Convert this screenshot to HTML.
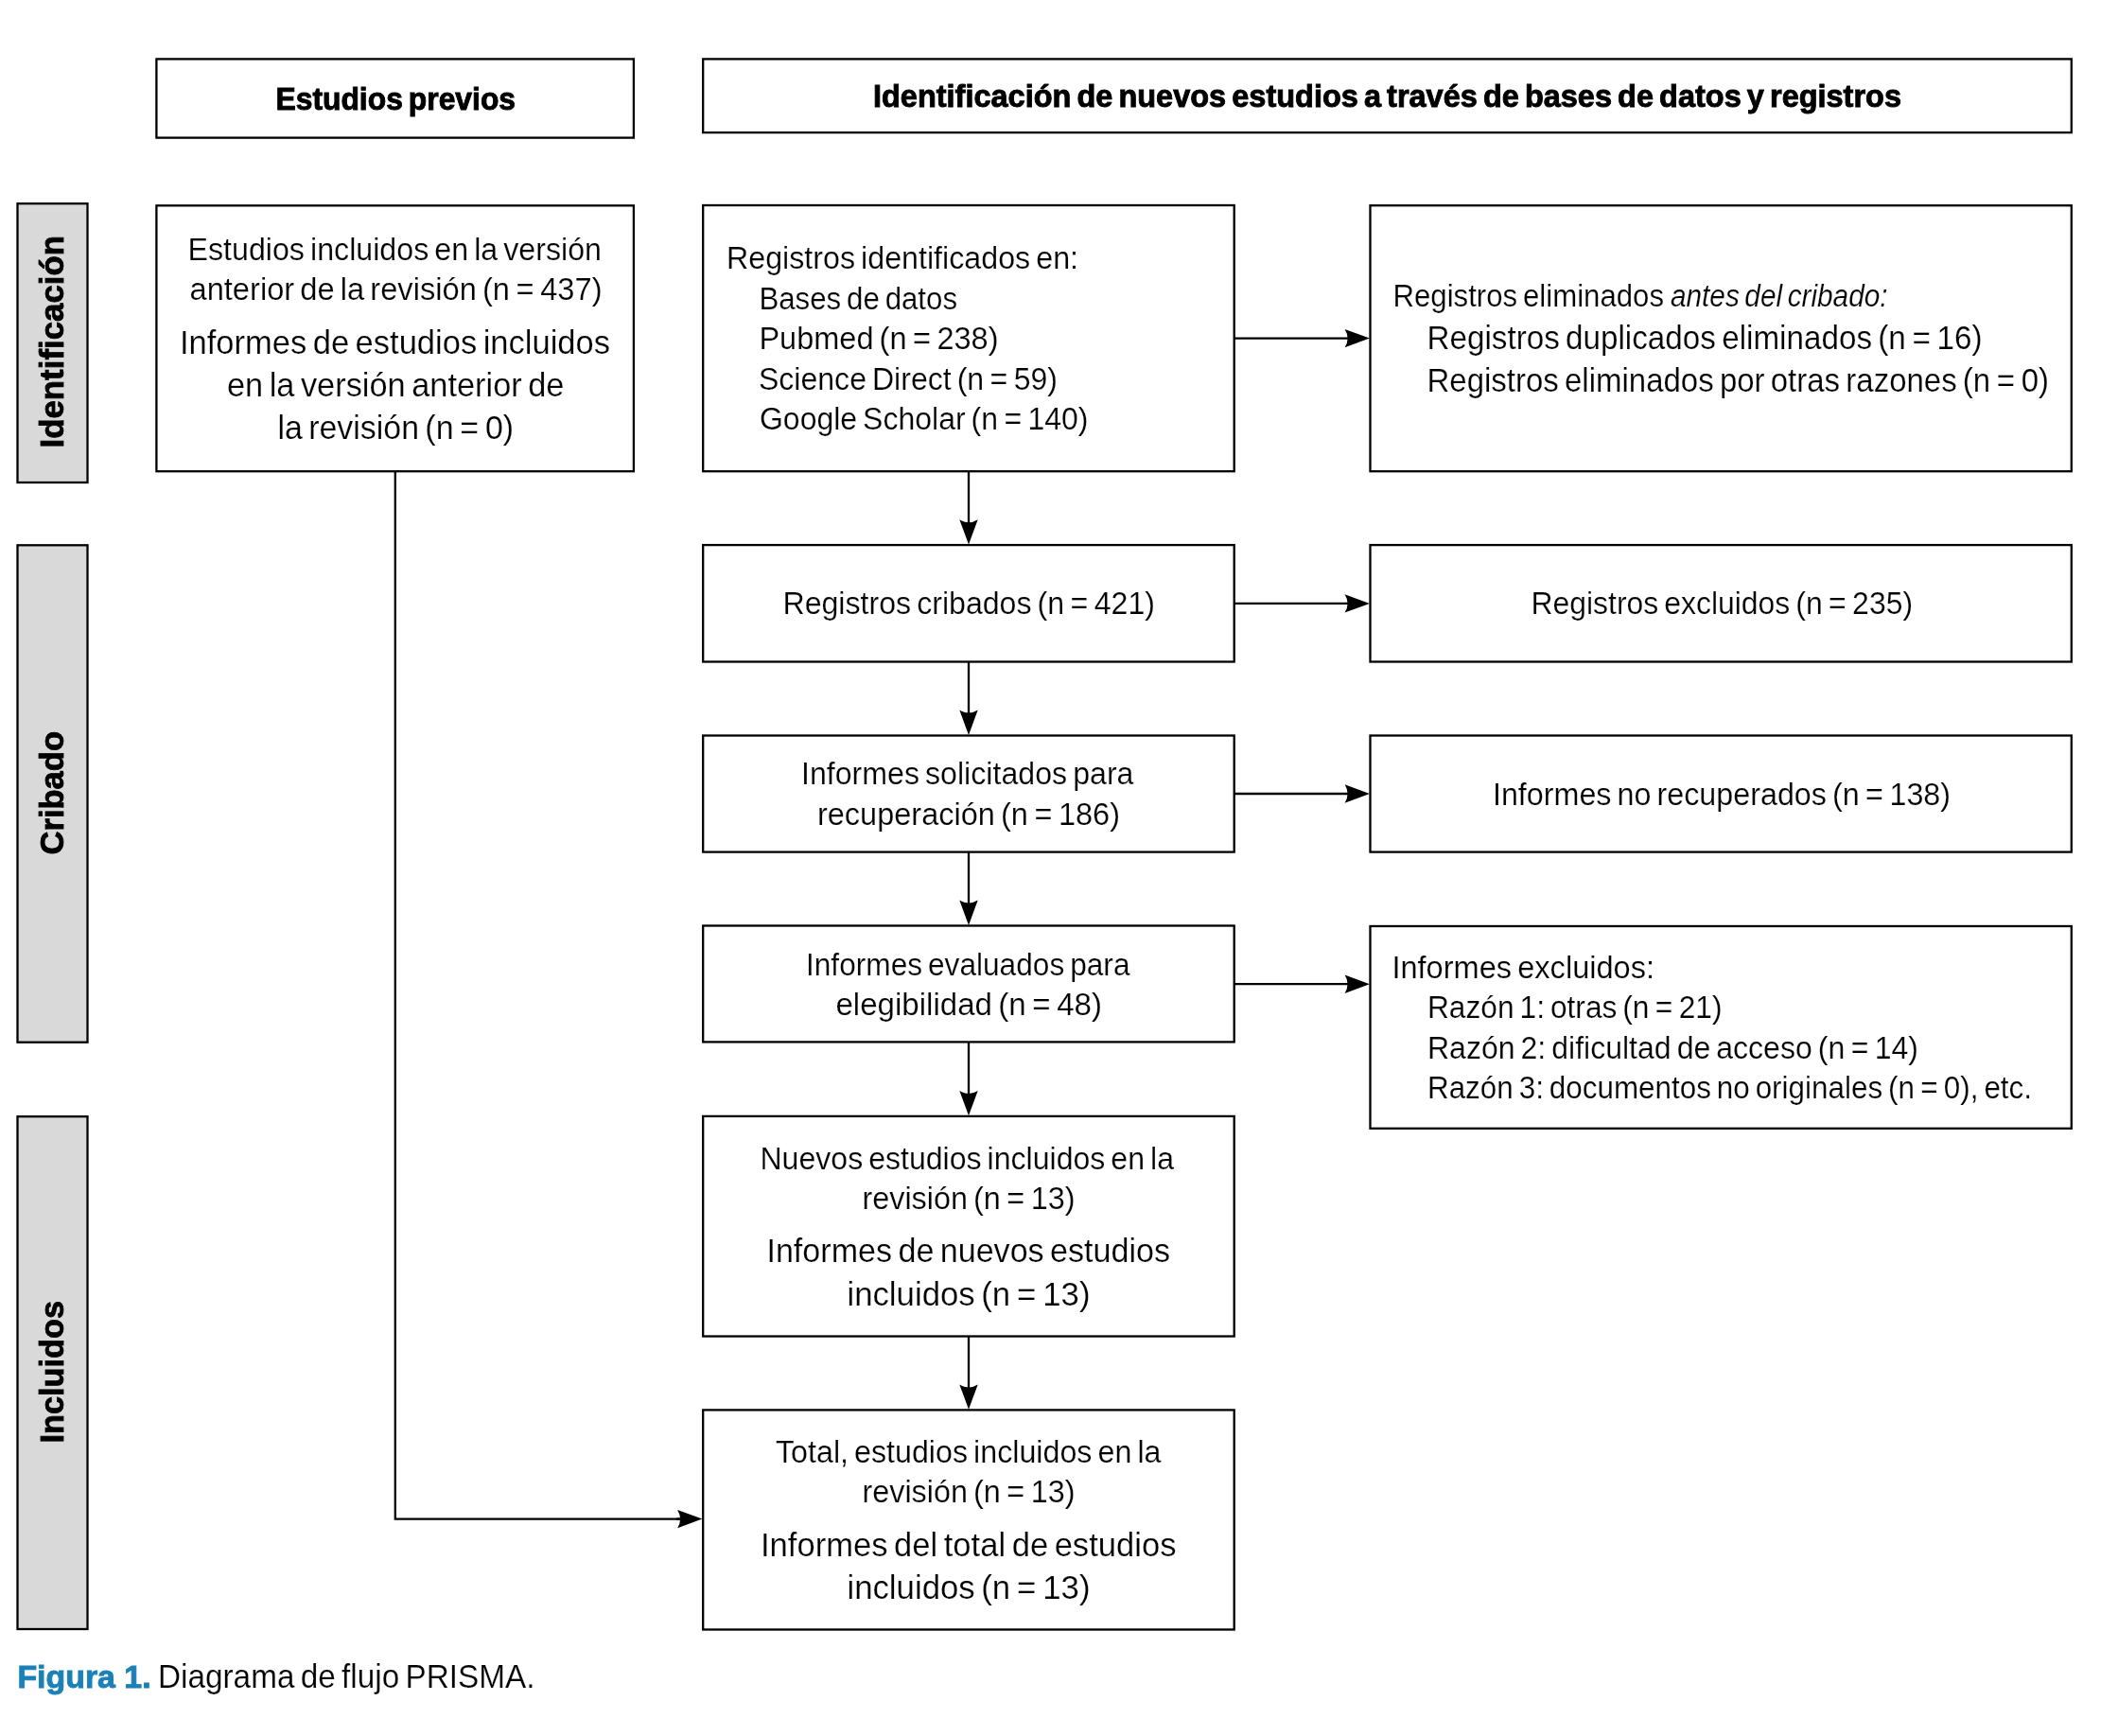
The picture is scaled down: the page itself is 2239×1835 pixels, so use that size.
<!DOCTYPE html>
<html><head><meta charset="utf-8"><style>html,body{margin:0;padding:0;background:#fff;width:2239px;height:1835px;overflow:hidden}svg{display:block;will-change:transform}text{font-family:"Liberation Sans",sans-serif}</style></head><body>
<svg width="2239" height="1835" viewBox="0 0 2239 1835">
<rect x="0" y="0" width="2239" height="1835" fill="#fff"/>
<rect x="165.4" y="62.4" width="504.5" height="83.2" fill="#fff" stroke="#000" stroke-width="2.3"/>
<rect x="743.2" y="62.4" width="1446.6" height="77.7" fill="#fff" stroke="#000" stroke-width="2.3"/>
<rect x="18.5" y="215.2" width="74.0" height="294.8" fill="#d9d9d9" stroke="#000" stroke-width="2.3"/>
<rect x="18.5" y="576.3" width="74.0" height="525.4" fill="#d9d9d9" stroke="#000" stroke-width="2.3"/>
<rect x="18.5" y="1180.2" width="74.0" height="541.8" fill="#d9d9d9" stroke="#000" stroke-width="2.3"/>
<rect x="165.4" y="217.3" width="504.5" height="280.9" fill="#fff" stroke="#000" stroke-width="2.3"/>
<rect x="743.2" y="217.0" width="561.5" height="281.2" fill="#fff" stroke="#000" stroke-width="2.3"/>
<rect x="1448.5" y="217.2" width="741.3" height="281.0" fill="#fff" stroke="#000" stroke-width="2.3"/>
<rect x="743.2" y="576.1" width="561.5" height="123.4" fill="#fff" stroke="#000" stroke-width="2.3"/>
<rect x="1448.5" y="576.1" width="741.3" height="123.4" fill="#fff" stroke="#000" stroke-width="2.3"/>
<rect x="743.2" y="777.5" width="561.5" height="123.1" fill="#fff" stroke="#000" stroke-width="2.3"/>
<rect x="1448.5" y="777.5" width="741.3" height="123.1" fill="#fff" stroke="#000" stroke-width="2.3"/>
<rect x="743.2" y="978.5" width="561.5" height="122.9" fill="#fff" stroke="#000" stroke-width="2.3"/>
<rect x="1448.5" y="979.0" width="741.3" height="213.8" fill="#fff" stroke="#000" stroke-width="2.3"/>
<rect x="743.2" y="1179.9" width="561.5" height="232.6" fill="#fff" stroke="#000" stroke-width="2.3"/>
<rect x="743.2" y="1490.4" width="561.5" height="232.1" fill="#fff" stroke="#000" stroke-width="2.3"/>
<line x1="1024.0" y1="498.2" x2="1024.0" y2="553.20" stroke="#000" stroke-width="2.3"/><path d="M1024.0 575.5 L1014.30 549.20 Q1024.0 555.20 1033.70 549.20 Z" fill="#000"/>
<line x1="1024.0" y1="699.5" x2="1024.0" y2="754.60" stroke="#000" stroke-width="2.3"/><path d="M1024.0 776.9 L1014.30 750.60 Q1024.0 756.60 1033.70 750.60 Z" fill="#000"/>
<line x1="1024.0" y1="900.6" x2="1024.0" y2="955.60" stroke="#000" stroke-width="2.3"/><path d="M1024.0 977.9 L1014.30 951.60 Q1024.0 957.60 1033.70 951.60 Z" fill="#000"/>
<line x1="1024.0" y1="1101.4" x2="1024.0" y2="1157.00" stroke="#000" stroke-width="2.3"/><path d="M1024.0 1179.3 L1014.30 1153.00 Q1024.0 1159.00 1033.70 1153.00 Z" fill="#000"/>
<line x1="1024.0" y1="1412.5" x2="1024.0" y2="1467.50" stroke="#000" stroke-width="2.3"/><path d="M1024.0 1489.8 L1014.30 1463.50 Q1024.0 1469.50 1033.70 1463.50 Z" fill="#000"/>
<line x1="1304.7" y1="357.6" x2="1425.60" y2="357.6" stroke="#000" stroke-width="2.3"/><path d="M1447.9 357.6 L1421.60 347.90 Q1427.60 357.6 1421.60 367.30 Z" fill="#000"/>
<line x1="1304.7" y1="637.9" x2="1425.60" y2="637.9" stroke="#000" stroke-width="2.3"/><path d="M1447.9 637.9 L1421.60 628.20 Q1427.60 637.9 1421.60 647.60 Z" fill="#000"/>
<line x1="1304.7" y1="839.0" x2="1425.60" y2="839.0" stroke="#000" stroke-width="2.3"/><path d="M1447.9 839.0 L1421.60 829.30 Q1427.60 839.0 1421.60 848.70 Z" fill="#000"/>
<line x1="1304.7" y1="1040.2" x2="1425.60" y2="1040.2" stroke="#000" stroke-width="2.3"/><path d="M1447.9 1040.2 L1421.60 1030.50 Q1427.60 1040.2 1421.60 1049.90 Z" fill="#000"/>
<polyline points="417.8,498.2 417.8,1605.6 725,1605.6" fill="none" stroke="#000" stroke-width="2.3"/>
<line x1="715" y1="1605.6" x2="720.10" y2="1605.6" stroke="#000" stroke-width="2.3"/><path d="M742.4 1605.6 L716.10 1595.90 Q722.10 1605.6 716.10 1615.30 Z" fill="#000"/>
<text x="291.48" y="116.1" font-size="32.85" word-spacing="-2.96" textLength="253.55" lengthAdjust="spacingAndGlyphs" fill="#000" font-weight="bold" stroke="#000" stroke-width="0.9">Estudios previos</text>
<text x="922.99" y="113.0" font-size="32.56" word-spacing="-2.93" textLength="1087.01" lengthAdjust="spacingAndGlyphs" fill="#000" font-weight="bold" stroke="#000" stroke-width="0.9">Identificación de nuevos estudios a través de bases de datos y registros</text>
<text x="198.47" y="274.9" font-size="33.43" word-spacing="-3.01" textLength="437.56" lengthAdjust="spacingAndGlyphs" fill="#000" stroke="#fff" stroke-width="0.2">Estudios incluidos en la versión</text>
<text x="200.48" y="316.6" font-size="33.43" word-spacing="-3.01" textLength="436.04" lengthAdjust="spacingAndGlyphs" fill="#000" stroke="#fff" stroke-width="0.2">anterior de la revisión (n = 437)</text>
<text x="189.95" y="374.1" font-size="35.18" word-spacing="-3.17" textLength="455.07" lengthAdjust="spacingAndGlyphs" fill="#000" stroke="#fff" stroke-width="0.2">Informes de estudios incluidos</text>
<text x="239.98" y="419.1" font-size="35.18" word-spacing="-3.17" textLength="356.53" lengthAdjust="spacingAndGlyphs" fill="#000" stroke="#fff" stroke-width="0.2">en la versión anterior de</text>
<text x="293.45" y="464.0" font-size="35.18" word-spacing="-3.17" textLength="249.59" lengthAdjust="spacingAndGlyphs" fill="#000" stroke="#fff" stroke-width="0.2">la revisión (n = 0)</text>
<text x="767.95" y="284.4" font-size="33.43" word-spacing="-3.01" textLength="372.11" lengthAdjust="spacingAndGlyphs" fill="#000" stroke="#fff" stroke-width="0.2">Registros identificados en:</text>
<text x="802.43" y="326.9" font-size="33.43" word-spacing="-3.01" textLength="209.61" lengthAdjust="spacingAndGlyphs" fill="#000" stroke="#fff" stroke-width="0.2">Bases de datos</text>
<text x="802.45" y="369.4" font-size="33.43" word-spacing="-3.01" textLength="253.09" lengthAdjust="spacingAndGlyphs" fill="#000" stroke="#fff" stroke-width="0.2">Pubmed (n = 238)</text>
<text x="801.97" y="411.9" font-size="33.43" word-spacing="-3.01" textLength="316.06" lengthAdjust="spacingAndGlyphs" fill="#000" stroke="#fff" stroke-width="0.2">Science Direct (n = 59)</text>
<text x="802.98" y="454.4" font-size="33.43" word-spacing="-3.01" textLength="347.55" lengthAdjust="spacingAndGlyphs" fill="#000" stroke="#fff" stroke-width="0.2">Google Scholar (n = 140)</text>
<text x="1472.45" y="323.7" font-size="33.43" word-spacing="-3.01" textLength="286.57" lengthAdjust="spacingAndGlyphs" fill="#000" stroke="#fff" stroke-width="0.2">Registros eliminados</text>
<text x="1765.98" y="323.6" font-size="33.43" word-spacing="-3.01" textLength="229.54" lengthAdjust="spacingAndGlyphs" fill="#000" stroke="#fff" stroke-width="0.2" font-style="italic">antes del cribado:</text>
<text x="1508.47" y="368.5" font-size="35.18" word-spacing="-3.17" textLength="587.05" lengthAdjust="spacingAndGlyphs" fill="#000" stroke="#fff" stroke-width="0.2">Registros duplicados eliminados (n = 16)</text>
<text x="1508.47" y="413.5" font-size="35.18" word-spacing="-3.17" textLength="657.55" lengthAdjust="spacingAndGlyphs" fill="#000" stroke="#fff" stroke-width="0.2">Registros eliminados por otras razones (n = 0)</text>
<text x="827.46" y="649.2" font-size="33.43" word-spacing="-3.01" textLength="393.57" lengthAdjust="spacingAndGlyphs" fill="#000" stroke="#fff" stroke-width="0.2">Registros cribados (n = 421)</text>
<text x="1618.46" y="649.1" font-size="33.43" word-spacing="-3.01" textLength="403.56" lengthAdjust="spacingAndGlyphs" fill="#000" stroke="#fff" stroke-width="0.2">Registros excluidos (n = 235)</text>
<text x="846.96" y="829.4" font-size="33.43" word-spacing="-3.01" textLength="351.54" lengthAdjust="spacingAndGlyphs" fill="#000" stroke="#fff" stroke-width="0.2">Informes solicitados para</text>
<text x="863.96" y="871.9" font-size="33.43" word-spacing="-3.01" textLength="320.08" lengthAdjust="spacingAndGlyphs" fill="#000" stroke="#fff" stroke-width="0.2">recuperación (n = 186)</text>
<text x="1577.96" y="851.0" font-size="33.43" word-spacing="-3.01" textLength="484.07" lengthAdjust="spacingAndGlyphs" fill="#000" stroke="#fff" stroke-width="0.2">Informes no recuperados (n = 138)</text>
<text x="851.97" y="1030.8" font-size="33.43" word-spacing="-3.01" textLength="342.53" lengthAdjust="spacingAndGlyphs" fill="#000" stroke="#fff" stroke-width="0.2">Informes evaluados para</text>
<text x="883.48" y="1072.7" font-size="33.43" word-spacing="-3.01" textLength="281.56" lengthAdjust="spacingAndGlyphs" fill="#000" stroke="#fff" stroke-width="0.2">elegibilidad (n = 48)</text>
<text x="1471.42" y="1033.8" font-size="33.43" word-spacing="-3.01" textLength="277.65" lengthAdjust="spacingAndGlyphs" fill="#000" stroke="#fff" stroke-width="0.2">Informes excluidos:</text>
<text x="1508.95" y="1076.1" font-size="33.43" word-spacing="-3.01" textLength="311.58" lengthAdjust="spacingAndGlyphs" fill="#000" stroke="#fff" stroke-width="0.2">Razón 1: otras (n = 21)</text>
<text x="1508.97" y="1119.0" font-size="33.43" word-spacing="-3.01" textLength="519.05" lengthAdjust="spacingAndGlyphs" fill="#000" stroke="#fff" stroke-width="0.2">Razón 2: dificultad de acceso (n = 14)</text>
<text x="1508.97" y="1160.9" font-size="33.43" word-spacing="-3.01" textLength="639.06" lengthAdjust="spacingAndGlyphs" fill="#000" stroke="#fff" stroke-width="0.2">Razón 3: documentos no originales (n = 0), etc.</text>
<text x="803.48" y="1236.2" font-size="33.43" word-spacing="-3.01" textLength="437.53" lengthAdjust="spacingAndGlyphs" fill="#000" stroke="#fff" stroke-width="0.2">Nuevos estudios incluidos en la</text>
<text x="911.44" y="1277.6" font-size="33.43" word-spacing="-3.01" textLength="225.11" lengthAdjust="spacingAndGlyphs" fill="#000" stroke="#fff" stroke-width="0.2">revisión (n = 13)</text>
<text x="810.45" y="1334.3" font-size="35.18" word-spacing="-3.17" textLength="426.58" lengthAdjust="spacingAndGlyphs" fill="#000" stroke="#fff" stroke-width="0.2">Informes de nuevos estudios</text>
<text x="895.46" y="1379.6" font-size="35.18" word-spacing="-3.17" textLength="257.08" lengthAdjust="spacingAndGlyphs" fill="#000" stroke="#fff" stroke-width="0.2">incluidos (n = 13)</text>
<text x="819.99" y="1546.2" font-size="33.43" word-spacing="-3.01" textLength="407.51" lengthAdjust="spacingAndGlyphs" fill="#000" stroke="#fff" stroke-width="0.2">Total, estudios incluidos en la</text>
<text x="911.44" y="1587.6" font-size="33.43" word-spacing="-3.01" textLength="225.11" lengthAdjust="spacingAndGlyphs" fill="#000" stroke="#fff" stroke-width="0.2">revisión (n = 13)</text>
<text x="803.97" y="1644.8" font-size="35.18" word-spacing="-3.17" textLength="439.55" lengthAdjust="spacingAndGlyphs" fill="#000" stroke="#fff" stroke-width="0.2">Informes del total de estudios</text>
<text x="895.46" y="1689.6" font-size="35.18" word-spacing="-3.17" textLength="257.08" lengthAdjust="spacingAndGlyphs" fill="#000" stroke="#fff" stroke-width="0.2">incluidos (n = 13)</text>
<text x="18.41" y="1784.0" font-size="33.87" word-spacing="0.00" textLength="141.19" lengthAdjust="spacingAndGlyphs" fill="#1b80b6" font-weight="bold" stroke="#1b80b6" stroke-width="0.9">Figura 1.</text>
<text x="166.96" y="1784.0" font-size="34.59" word-spacing="-3.11" textLength="398.59" lengthAdjust="spacingAndGlyphs" fill="#000" stroke="#fff" stroke-width="0.2">Diagrama de flujo PRISMA.</text>
<text transform="translate(67.4 0) rotate(-90)" x="-473.53" y="0" font-size="34.16" textLength="224.56" lengthAdjust="spacingAndGlyphs" font-weight="bold" fill="#000" stroke="#000" stroke-width="0.8">Identificación</text>
<text transform="translate(66.9 0) rotate(-90)" x="-903.54" y="0" font-size="34.16" textLength="130.58" lengthAdjust="spacingAndGlyphs" font-weight="bold" fill="#000" stroke="#000" stroke-width="0.8">Cribado</text>
<text transform="translate(66.8 0) rotate(-90)" x="-1525.57" y="0" font-size="34.16" textLength="150.61" lengthAdjust="spacingAndGlyphs" font-weight="bold" fill="#000" stroke="#000" stroke-width="0.8">Incluidos</text>
</svg></body></html>
